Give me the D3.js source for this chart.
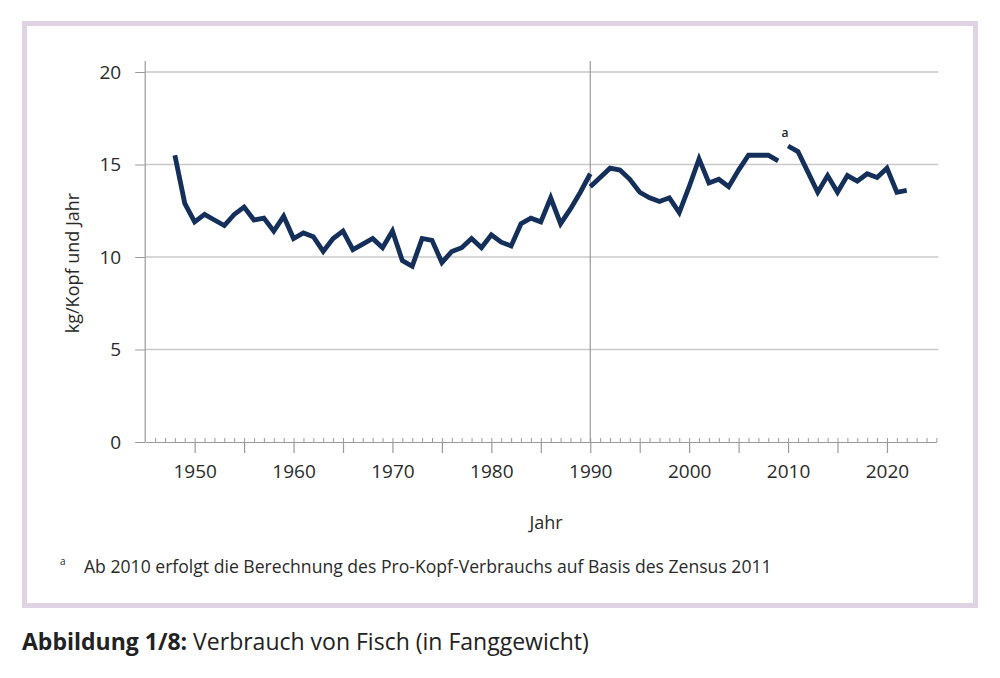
<!DOCTYPE html>
<html><head><meta charset="utf-8">
<script src="https://cdn.jsdelivr.net/npm/d3@7"></script>
<style>body{margin:0;background:#fff;} svg{display:block;font-family:"Open Sans",sans-serif;}</style>
</head><body><svg id="c" width="1000" height="678"></svg>
<script>
// ---- data ----
const years1 = d3.range(1948, 1991);
const values1 = [15.5,12.9,11.9,12.3,12.0,11.7,12.3,12.7,12.0,12.1,11.4,12.2,11.0,11.3,11.1,10.3,11.0,11.4,10.4,10.7,11.0,10.5,11.4,9.8,9.5,11.0,10.9,9.7,10.3,10.5,11.0,10.5,11.2,10.8,10.6,11.8,12.1,11.9,13.2,11.8,12.6,13.5,14.5];
const years2 = d3.range(1990, 2010);
const values2 = [13.8,14.3,14.8,14.7,14.2,13.5,13.2,13.0,13.2,12.4,13.8,15.3,14.0,14.2,13.8,14.7,15.5,15.5,15.5,15.2];
const years3 = d3.range(2010, 2023);
const values3 = [16.0,15.7,14.6,13.5,14.4,13.5,14.4,14.1,14.5,14.3,14.8,13.5,13.6];
const yTicks = [0,5,10,15,20];
const xLabelTicks = [1950,1960,1970,1980,1990,2000,2010,2020];
const xMajorTicks = [1950,1955,1960,1965,1970,1975,1980,1985,1990,1995,2000,2005,2010,2015,2020];
const xMinorTicks = d3.range(1946, 2026);
const footnoteMark = "a";
const footnoteText = "Ab 2010 erfolgt die Berechnung des Pro-Kopf-Verbrauchs auf Basis des Zensus 2011";
const captionBold = "Abbildung 1/8:";
const captionText = " Verbrauch von Fisch (in Fanggewicht)";
const yTitle = "kg/Kopf und Jahr";
const xTitle = "Jahr";

// ---- drawing ----
const svg = d3.select("#c");
const navy = "#14305a";
const grid = "#c9c9c9";
const axisCol = "#9a9a9a";
const textCol = "#2a2a2a";

svg.append("rect").attr("x",24.5).attr("y",23.5).attr("width",951).attr("height",582)
  .attr("fill","#fff").attr("stroke","#e0d4e4").attr("stroke-width",5);

const x = d3.scaleLinear().domain([1945, 2025]).range([145.2, 936.4]);
const y = d3.scaleLinear().domain([0, 20]).range([442, 72]);

// gridlines
svg.append("g").selectAll("line").data(yTicks.filter(d=>d>0)).join("line")
  .attr("x1", x(1945)).attr("x2", x(2025)+2)
  .attr("y1", d=>y(d)).attr("y2", d=>y(d))
  .attr("stroke", grid).attr("stroke-width",1.5);

// y axis
const yAxis = svg.append("g").attr("transform",`translate(${x(1945)},0)`)
  .call(d3.axisLeft(y).tickValues(yTicks).tickSize(10).tickSizeOuter(0).tickPadding(14));
yAxis.select(".domain").remove();
yAxis.selectAll(".tick line").attr("stroke", axisCol);
yAxis.selectAll(".tick text").attr("fill", textCol).style("font-size","19px").style("font-family","'Open Sans',sans-serif");
svg.append("line").attr("x1",x(1945)).attr("x2",x(1945)).attr("y1",y(20)-11).attr("y2",y(0))
  .attr("stroke",axisCol).attr("stroke-width",1.2);
// 1990 divider
svg.append("line").attr("x1",x(1990)).attr("x2",x(1990)).attr("y1",y(20)-11).attr("y2",y(0))
  .attr("stroke",axisCol).attr("stroke-width",1.2);

// x axis minor ticks (upward)
const xMinor = svg.append("g").attr("transform",`translate(0,${y(0)})`)
  .call(d3.axisBottom(x).tickValues(xMinorTicks).tickSize(-4).tickSizeOuter(0).tickFormat(""));
xMinor.select(".domain").attr("stroke", axisCol).attr("stroke-width",1.2);
xMinor.selectAll(".tick line").attr("stroke", axisCol);
// x axis major ticks (downward)
const xMajor = svg.append("g").attr("transform",`translate(0,${y(0)})`)
  .call(d3.axisBottom(x).tickValues(xMajorTicks).tickSize(11).tickSizeOuter(0).tickFormat(""));
xMajor.select(".domain").remove();
xMajor.selectAll(".tick line").attr("stroke", axisCol).attr("stroke-width",1.2);
// x labels
const xLab = svg.append("g").attr("transform",`translate(0,${y(0)})`)
  .call(d3.axisBottom(x).tickValues(xLabelTicks).tickSize(0).tickPadding(23).tickFormat(d3.format("d")));
xLab.select(".domain").remove();
xLab.selectAll(".tick text").attr("fill", textCol).style("font-size","19px").style("font-family","'Open Sans',sans-serif");

// lines
const line = d3.line().x(d=>x(d[0])).y(d=>y(d[1]));
[[years1,values1],[years2,values2],[years3,values3]].forEach(([ys,vs])=>{
  svg.append("path").datum(ys.map((yr,i)=>[yr,vs[i]]))
    .attr("d", line).attr("fill","none").attr("stroke",navy).attr("stroke-width",4.8);
});

// footnote marker at 2010
svg.append("text").attr("x", x(2010)-3).attr("y", y(values3[0])-9)
  .attr("text-anchor","middle").attr("fill","#222").style("font-size","12px").style("font-weight","600").text(footnoteMark);

// axis titles
svg.append("text").attr("transform",`translate(79,${y(10)+6}) rotate(-90)`)
  .attr("text-anchor","middle").attr("fill",textCol).style("font-size","18px").text(yTitle);
svg.append("text").attr("x", 546).attr("y", 529)
  .attr("text-anchor","middle").attr("fill",textCol).style("font-size","18px").text(xTitle);

// footnote
svg.append("text").attr("x",60).attr("y",565).attr("fill",textCol).style("font-size","10px").text(footnoteMark);
svg.append("text").attr("x",84).attr("y",573).attr("fill",textCol).style("font-size","17.6px").text(footnoteText);

// caption
const cap = svg.append("text").attr("x",22).attr("y",650).attr("fill","#222").style("font-size","23px");
cap.append("tspan").attr("font-weight","bold").text(captionBold);
cap.append("tspan").text(captionText);
</script></body></html>
